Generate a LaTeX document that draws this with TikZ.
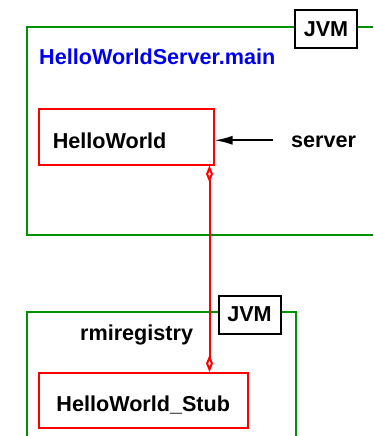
\documentclass[tikz,border=0pt]{standalone}
\usepackage{fontspec}
\setmainfont{Liberation Sans}
\usetikzlibrary{arrows.meta}
\definecolor{jvmgreen}{RGB}{0,145,0}
\definecolor{objred}{RGB}{255,0,0}
\definecolor{titleblue}{RGB}{0,0,240}
\begin{document}
\begin{tikzpicture}[x=1pt,y=-1pt,
  every node/.style={font=\fontsize{21.6}{24}\selectfont\bfseries},
  vmbox/.style={draw=jvmgreen,line width=1.5pt},
  jvmtag/.style={draw=black,line width=2pt,fill=white,minimum width=62pt,minimum height=38pt,inner sep=0pt},
  objbox/.style={draw=objred,line width=1.5pt,inner ysep=0pt},
  lbl/.style={inner sep=0pt,anchor=base west},
  refarrow/.style={draw=black,line width=2pt,-{Latex[length=18pt,width=9pt]}},
  assoc/.style={draw=objred,line width=2pt,{Diamond[open,length=17pt,width=7pt]}-{Diamond[open,length=17pt,width=7pt]}}
]
\useasboundingbox (0,0) rectangle (373,436);
\begin{scope}
\clip (0,0) rectangle (373,436);
% top JVM
\draw[vmbox] (27,27) rectangle (390,235);
\node[jvmtag] (jvm1) at (326,29) {JVM};
\node[lbl,text=titleblue] (main) at (39,64.3) {HelloWorldServer.main};
\node[objbox,minimum width=175pt,text width=147pt,inner xsep=14pt,align=left,
      text height=39.3pt,text depth=16.7pt,anchor=north west] (hw) at (38,108) {HelloWorld};
\node[lbl] (server) at (291,147) {server};
\coordinate (arrstart) at ([xshift=-18pt,yshift=1pt]server.west);
\draw[refarrow] (arrstart) -- (hw.east |- arrstart);
% bottom JVM
\draw[vmbox] (27,312) rectangle (296,460);
\node[jvmtag] (jvm2) at (249.5,314.5) {JVM};
\node[lbl] (rmi) at (80,340) {rmiregistry};
\node[objbox,minimum width=209pt,inner xsep=0pt,
      text height=38.7pt,text depth=16.3pt,anchor=north west] (stub) at (38,372) {HelloWorld\_Stub};
\draw[assoc] ([xshift=-5pt]hw.south east) -- ([xshift=-5pt]hw.south east |- stub.north);
\end{scope}
\end{tikzpicture}
\end{document}
